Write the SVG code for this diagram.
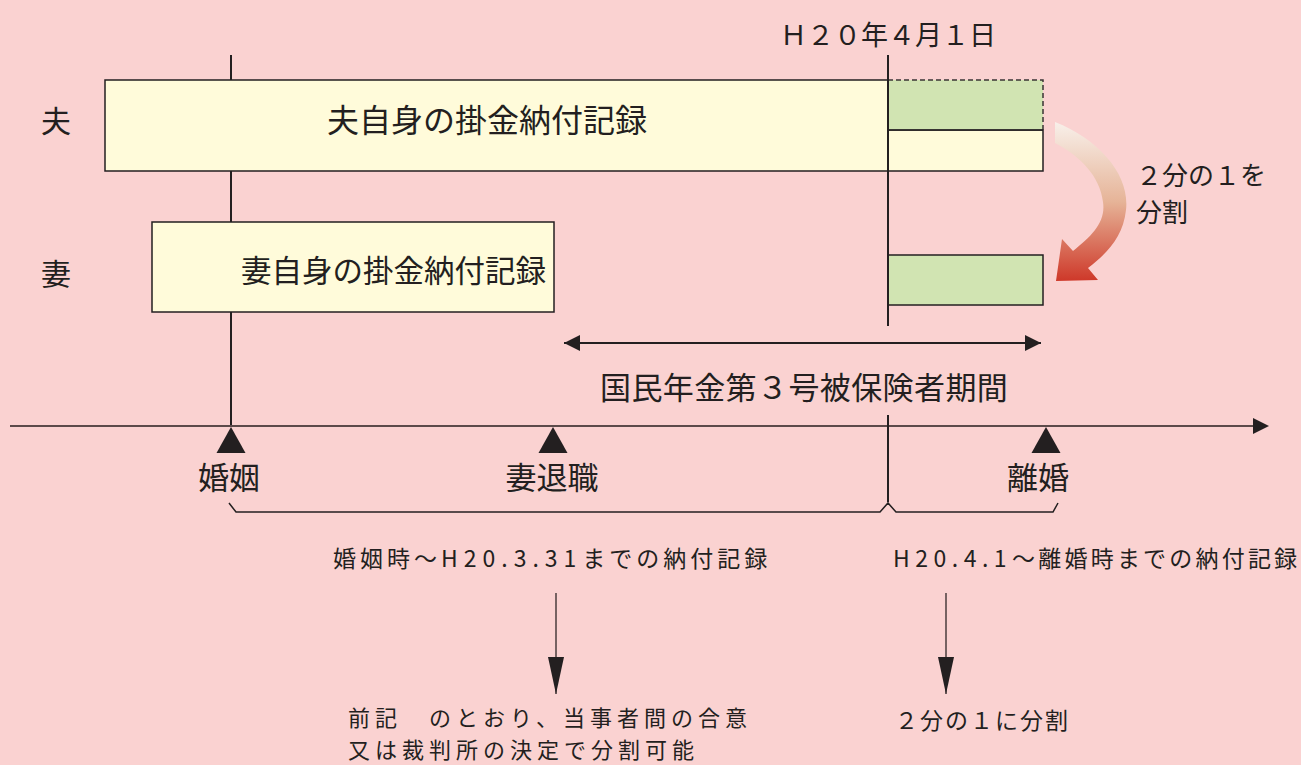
<svg xmlns="http://www.w3.org/2000/svg" width="1301" height="765" viewBox="0 0 1301 765">
  <style>
    text { font-family: "Noto Sans CJK JP", "Noto Sans", sans-serif; fill: #231F20; }
    .ln { stroke: #231F20; stroke-width: 2; fill: none; }
    .thin { stroke: #4A3C3C; stroke-width: 1.5; fill: none; }
    .box { fill: #FFFBDA; stroke: #231F20; stroke-width: 1.5; }
    .grn { fill: #D1E4B2; }
    .tri { fill: #231F20; }
  </style>
  <defs>
    <linearGradient id="grad" x1="0" y1="0" x2="0" y2="1">
      <stop offset="0" stop-color="#F8F0EA"/>
      <stop offset="0.5" stop-color="#E6B498"/>
      <stop offset="1" stop-color="#CE3829"/>
    </linearGradient>
    <marker id="ah" viewBox="0 0 16 16" refX="16" refY="8" markerWidth="16" markerHeight="16" markerUnits="userSpaceOnUse" orient="auto-start-reverse">
      <path d="M0,0 L16,8 L0,16 Z" fill="#231F20"/>
    </marker>
    <marker id="ahd" viewBox="0 0 16 37" refX="8" refY="37" markerWidth="16" markerHeight="37" markerUnits="userSpaceOnUse" orient="0">
      <path d="M0,0 L16,0 L8,37 Z" fill="#231F20"/>
    </marker>
  </defs>

  <rect x="0" y="0" width="1301" height="765" fill="#FAD2D1"/>

  <g id="connectors">
    <line id="marriage-line" class="ln" x1="231" y1="55" x2="231" y2="426"/>
    <line id="axis" x1="10" y1="426" x2="1255" y2="426" stroke="#5C4A4A" stroke-width="2"/>
    <path d="M1253,418 L1269,426 L1253,434 Z" fill="#231F20"/>
    <line id="period-arrow" class="ln" x1="564" y1="343" x2="1041" y2="343" marker-start="url(#ah)" marker-end="url(#ah)"/>
    <path id="brace" d="M229,503 L236,512 L880,512 L888,503 L896,512 L1053,512 L1058,503" stroke="#231F20" stroke-width="1.5" fill="none"/>
    <line id="arrow-left" class="thin" x1="556" y1="593" x2="556" y2="694" marker-end="url(#ahd)"/>
    <line id="arrow-right" class="thin" x1="946" y1="593" x2="946" y2="694" marker-end="url(#ahd)"/>
  </g>

  <g id="husband-record">
    <path class="box" d="M105,80 L888,80 L888,130 L1043,130 L1043,171 L105,171 Z"/>
    <rect class="grn" x="888" y="80" width="155" height="49.3"/>
    <path d="M888,80 L1043,80 L1043,130" stroke="#3A3434" stroke-width="1.5" stroke-dasharray="5,3" fill="none"/>
    <line x1="888" y1="130" x2="1043" y2="130" stroke="#231F20" stroke-width="1.5"/>
    <text x="327" y="132" font-size="32">夫自身の掛金納付記録</text>
  </g>

  <g id="wife-record">
    <rect class="box" x="152" y="222" width="402" height="90"/>
    <text x="241" y="282" font-size="30.5">妻自身の掛金納付記録</text>
  </g>

  <g id="wife-split">
    <rect x="888" y="255" width="155" height="50" fill="#D1E4B2" stroke="#231F20" stroke-width="1.5"/>
  </g>

  <g id="date-line">
    <line class="ln" x1="888" y1="55" x2="888" y2="326"/>
    <line class="ln" x1="888" y1="415" x2="888" y2="502"/>
    <text x="780" y="45" font-size="27">Ｈ２０年４月１日</text>
  </g>

  <g id="labels">
    <text x="41" y="132" font-size="30">夫</text>
    <text x="41" y="285" font-size="30">妻</text>
  </g>

  <g id="split-arrow">
    <path d="M1055,122 C1100,140 1130,175 1126,210 C1123,238 1106,254 1088,268 L1098,280 L1056,281 L1062,239 L1073,251 C1092,236 1106,222 1103,202 C1100,176 1080,156 1055,143 Z" fill="url(#grad)"/>
    <text x="1136" y="185" font-size="26">２分の１を</text>
    <text x="1136" y="222" font-size="26">分割</text>
  </g>

  <g id="period-label">
    <text x="600" y="399" font-size="31" letter-spacing="0.4">国民年金第３号被保険者期間</text>
  </g>

  <g id="event-marriage">
    <path class="tri" d="M231,427 L245.5,453 L216.5,453 Z"/>
    <text x="229" y="489" font-size="31" text-anchor="middle">婚姻</text>
  </g>
  <g id="event-retire">
    <path class="tri" d="M553,427 L567.5,453 L538.5,453 Z"/>
    <text x="552" y="489" font-size="31" text-anchor="middle">妻退職</text>
  </g>
  <g id="event-divorce">
    <path class="tri" d="M1046,427 L1060.5,453 L1031.5,453 Z"/>
    <text x="1038" y="489" font-size="31" text-anchor="middle">離婚</text>
  </g>

  <g id="record-before">
    <text x="333" y="567" font-size="23" letter-spacing="4">婚姻時～<tspan letter-spacing="6">H20.3.31</tspan>までの納付記録</text>
  </g>
  <g id="record-after">
    <text x="893" y="567" font-size="23" letter-spacing="3.2"><tspan letter-spacing="5.5">H20.4.1</tspan>～離婚時までの納付記録</text>
  </g>
  <g id="result-before">
    <text x="348" y="726" font-size="22" letter-spacing="5">前記　のとおり、当事者間の合意</text>
    <text x="348" y="758" font-size="22" letter-spacing="5">又は裁判所の決定で分割可能</text>
  </g>
  <g id="result-after">
    <text x="895" y="729" font-size="23" letter-spacing="2">２分の１に分割</text>
  </g>
</svg>
